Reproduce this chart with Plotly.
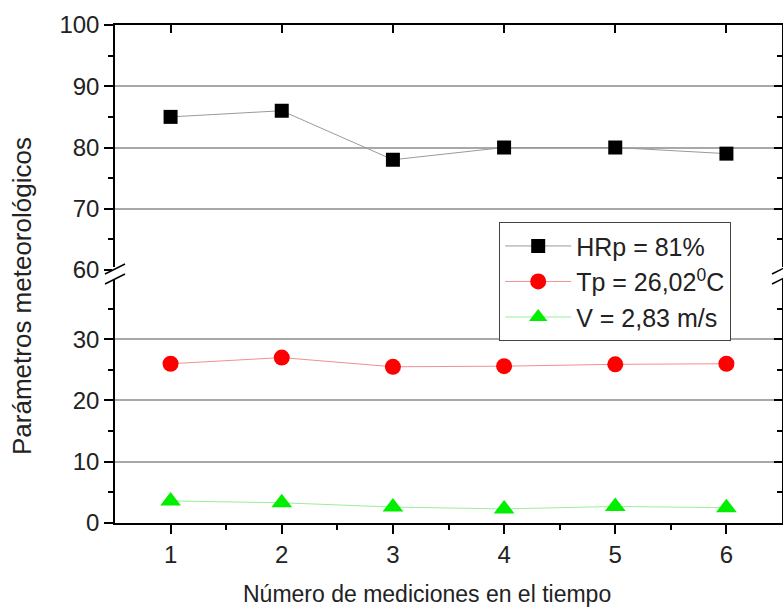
import plotly.graph_objects as go

# ---- data ----
mediciones = [1, 2, 3, 4, 5, 6]
hr_values = [85, 86, 78, 80, 80, 79]
tp_values = [26.0, 27.0, 25.5, 25.6, 25.9, 26.0]
v_values = [3.6, 3.3, 2.6, 2.3, 2.7, 2.5]
series_names = ["HRp = 81%", "Tp = 26,02<sup>0</sup>C", "V = 2,83 m/s"]
x_ticks = [1, 2, 3, 4, 5, 6]
low_ticks = [0, 10, 20, 30]
high_ticks = [60, 70, 80, 90, 100]

W, H = 783, 608
SL, SR, ST, SB = 115, 782, 25, 523          # plot frame in pixels
L, T = SL, ST
R = W - SR
B = H - SB
split = (SB - 270) / (SB - ST)
low_range = [0, 41.3]
high_range = [60, 100]
FONT = "Liberation Sans, Arial, sans-serif"


def sp(px, py):
    """pixel -> paper coords"""
    return (px - SL) / (SR - SL), (SB - py) / (SB - ST)


fig = go.Figure()
fig.add_trace(go.Scatter(x=mediciones, y=hr_values, name=series_names[0], mode="lines+markers",
                         line=dict(color="#9a9a9a", width=1),
                         marker=dict(symbol="square", size=14, color="black"),
                         xaxis="x", yaxis="y2", legendgroup="a"))
fig.add_trace(go.Scatter(x=mediciones, y=tp_values, name=series_names[1], mode="lines+markers",
                         line=dict(color="#f09090", width=1),
                         marker=dict(symbol="circle", size=16, color="#ff0000"),
                         xaxis="x", yaxis="y", legendgroup="b"))
fig.add_trace(go.Scatter(x=mediciones, y=v_values, name=series_names[2], mode="lines+markers",
                         line=dict(color="#99ee99", width=1),
                         marker=dict(symbol="triangle-up", size=18, color="#00ee00"),
                         xaxis="x", yaxis="y", legendgroup="c"))
# empty helper traces so overlay axes are drawn
for xa, ya in [("x2", "y2"), ("x", "y3"), ("x", "y4")]:
    fig.add_trace(go.Scatter(x=[], y=[], xaxis=xa, yaxis=ya, showlegend=False, hoverinfo="skip"))

axis_line = dict(showline=True, linecolor="black", linewidth=1.5, zeroline=False, automargin=False)
tickfont = dict(family=FONT, size=24, color="#222")
mk = dict(tickwidth=1.5, tickcolor="black")

fig.update_layout(
    width=W, height=H, autosize=False,
    margin=dict(l=L, r=R, t=T, b=B, autoexpand=False),
    paper_bgcolor="white", plot_bgcolor="white",
    showlegend=True,
    font=dict(family=FONT, size=23, color="#222"),
    xaxis=dict(range=[0.5, 6.5], domain=[0, 1], anchor="y", tickvals=x_ticks,
               ticks="outside", ticklen=9, **mk,
               minor=dict(tickvals=[1.5, 2.5, 3.5, 4.5, 5.5], ticks="outside", ticklen=5, **mk),
               showgrid=False, tickfont=tickfont, **axis_line),
    xaxis2=dict(range=[0.5, 6.5], overlaying="x", anchor="y2", side="top", tickvals=x_ticks,
                ticks="inside", ticklen=8, **mk,
                showticklabels=False, showgrid=False, **axis_line),
    yaxis=dict(range=low_range, domain=[0, split], anchor="x", tickvals=low_ticks,
               ticks="outside", ticklen=9, **mk,
               minor=dict(tickvals=[5, 15, 25, 35], ticks="outside", ticklen=5, **mk),
               showgrid=False, tickfont=tickfont, **axis_line),
    yaxis2=dict(range=high_range, domain=[split, 1], anchor="x", tickvals=high_ticks,
                ticks="outside", ticklen=9, **mk,
                minor=dict(tickvals=[65, 75, 85, 95], ticks="outside", ticklen=5, **mk),
                showgrid=False, tickfont=tickfont, **axis_line),
    yaxis3=dict(range=low_range, overlaying="y", anchor="x", side="right", tickvals=low_ticks,
                ticks="inside", ticklen=8, **mk,
                minor=dict(tickvals=[5, 15, 25, 35], ticks="inside", ticklen=5, **mk),
                showticklabels=False, showgrid=True, gridcolor="#a8a8a8", gridwidth=1.5,
                **axis_line),
    yaxis4=dict(range=high_range, overlaying="y2", anchor="x", side="right",
                tickvals=[70, 80, 90, 100],
                ticks="inside", ticklen=8, **mk,
                minor=dict(tickvals=[65, 75, 85, 95], ticks="inside", ticklen=5, **mk),
                showticklabels=False, showgrid=True, gridcolor="#a8a8a8", gridwidth=1.5,
                **axis_line),
    legend=dict(x=sp(499, 222)[0], y=sp(499, 222)[1], xanchor="left", yanchor="top",
                bgcolor="white", bordercolor="#444", borderwidth=1.2,
                font=dict(family=FONT, size=25, color="#222"),
                itemwidth=66, tracegroupgap=0, traceorder="normal"),
)

# axis titles
tx, ty = sp(22, 296)
fig.add_annotation(text="Parámetros meteorológicos", xref="paper", yref="paper",
                   x=tx, y=ty, textangle=-90,
                   showarrow=False, xanchor="center", yanchor="middle",
                   font=dict(family=FONT, size=26, color="#222"))
tx, ty = sp(427, 594)
fig.add_annotation(text="Número de mediciones en el tiempo", xref="paper", yref="paper",
                   x=tx, y=ty,
                   showarrow=False, xanchor="center", yanchor="middle",
                   font=dict(family=FONT, size=23, color="#222"))

# break marks on both vertical axes
for cx in [SL, SR]:
    x0, y0 = sp(cx - 3, 279)
    x1, y1 = sp(cx + 3, 267)
    fig.add_shape(type="rect", xref="paper", yref="paper", x0=x0, y0=y0, x1=x1, y1=y1,
                  fillcolor="white", line=dict(width=0), layer="above")
    for dy in [0, 10]:
        xa, ya = sp(cx - 10, 274 + dy)
        xb, yb = sp(cx + 10, 264 + dy)
        fig.add_shape(type="line", xref="paper", yref="paper", x0=xa, y0=ya, x1=xb, y1=yb,
                      line=dict(color="black", width=1.5), layer="above")

post = ("document.body.style.margin='0';document.body.style.overflow='hidden';"
        "var gd=document.getElementById('{plot_id}');"
        "Plotly.relayout(gd,{width:%d,height:%d});" % (W, H))
fig.write_html("out.html", config={"responsive": False, "displayModeBar": False},
               post_script=post)
